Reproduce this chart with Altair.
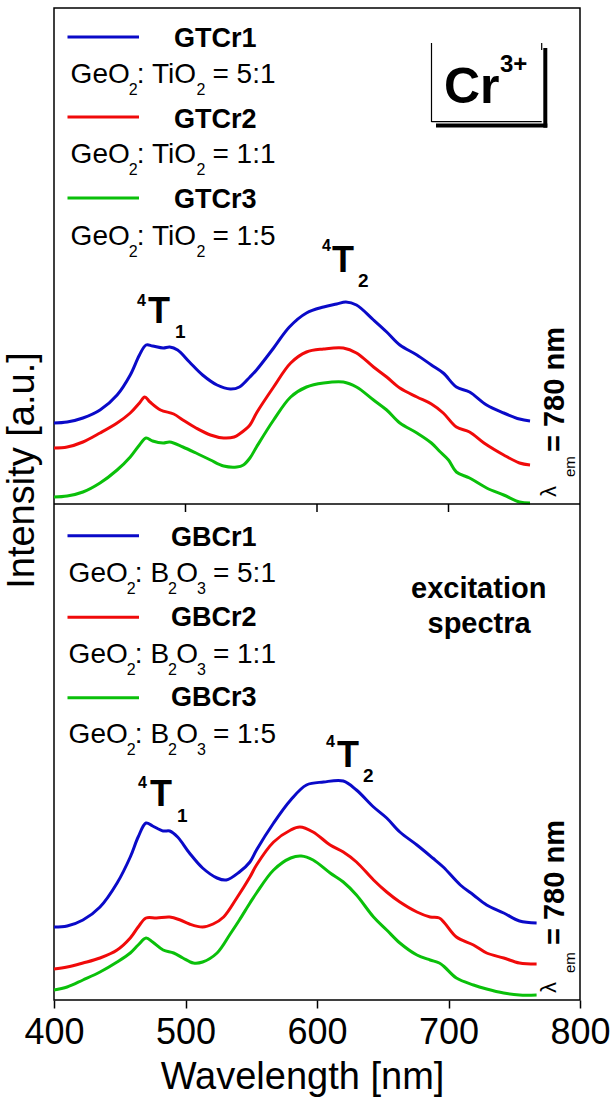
import altair as alt
import pandas as pd

# ---------------- data (intensity in a.u.) ----------------
series_top = ["GTCr1", "GTCr2", "GTCr3"]
series_bottom = ["GBCr1", "GBCr2", "GBCr3"]
ratio_labels = ["5:1", "1:1", "1:5"]
colors = ["#0a0ac8", "#f00a0a", "#0ac00a"]
x_ticks = [400, 500, 600, 700, 800]

gtcr1_wl = [400, 410, 422, 435, 448, 458, 465, 470, 475, 483, 488, 494, 503, 513, 524, 534, 541, 549, 554, 567,
            579, 592, 605, 615, 622, 630, 643, 653, 663, 676, 687, 696, 706, 716, 729, 742, 754, 762]
gtcr1_int = [81, 82, 86, 94, 109, 129, 149, 159, 158, 156, 157, 154, 142, 129, 119, 115, 117, 127, 134, 156,
             177, 191, 197, 200, 202, 199, 184, 172, 159, 149, 139, 131, 117, 112, 99, 91, 85, 83]

gtcr2_wl = [400, 410, 422, 435, 448, 458, 465, 469, 473, 481, 491, 498, 508, 519, 529, 537, 541, 549, 554, 567,
            580, 592, 605, 620, 630, 643, 653, 663, 676, 687, 696, 706, 716, 727, 742, 754, 762]
gtcr2_int = [56, 57, 62, 71, 81, 91, 101, 107, 102, 94, 90, 84, 76, 69, 66, 67, 70, 79, 91, 117,
             141, 152, 155, 156, 151, 137, 127, 116, 107, 100, 91, 77, 72, 61, 49, 41, 39]

gtcr3_wl = [400, 410, 422, 435, 448, 458, 465, 470, 475, 483, 488, 498, 508, 519, 529, 539, 544, 549, 554, 567,
            580, 592, 605, 620, 630, 643, 653, 663, 676, 687, 693, 700, 706, 716, 729, 742, 754, 762]
gtcr3_int = [7, 8, 12, 21, 34, 47, 59, 66, 63, 61, 62, 57, 51, 44, 38, 37, 39, 46, 57, 84,
             107, 117, 121, 122, 117, 104, 94, 81, 71, 61, 53, 44, 32, 26, 16, 9, 2, 1]

gbcr1_wl = [400, 410, 422, 435, 448, 458, 464, 470, 475, 483, 488, 494, 503, 513, 524, 531, 541, 549, 554, 567,
            580, 592, 605, 620, 630, 643, 653, 663, 676, 688, 696, 709, 719, 729, 742, 754, 767]
gbcr1_int = [73, 74, 80, 93, 117, 143, 163, 177, 174, 169, 169, 163, 147, 132, 122, 120, 128, 138, 150, 177,
             200, 215, 218, 219, 210, 193, 182, 168, 155, 142, 133, 115, 105, 95, 87, 79, 77]

gbcr2_wl = [400, 410, 422, 435, 448, 458, 464, 470, 478, 488, 496, 503, 513, 521, 529, 539, 549, 554, 567, 580,
            587, 597, 610, 620, 630, 643, 653, 663, 676, 686, 693, 697, 706, 719, 729, 742, 754, 767]
gbcr2_int = [31, 33, 37, 42, 50, 62, 73, 82, 82, 83, 80, 76, 73, 76, 83, 102, 123, 135, 158, 170,
             173, 168, 155, 148, 138, 120, 108, 98, 88, 83, 82, 77, 63, 55, 47, 42, 37, 36]

gbcr3_wl = [400, 410, 422, 435, 448, 458, 464, 470, 475, 483, 491, 498, 506, 513, 524, 534, 541, 549, 554, 567,
            580, 588, 597, 610, 620, 630, 643, 653, 663, 676, 686, 693, 697, 706, 719, 729, 742, 754, 767]
gbcr3_int = [10, 13, 20, 28, 38, 47, 55, 62, 58, 50, 47, 42, 37, 38, 47, 66, 80, 97, 107, 130,
             142, 144, 140, 127, 118, 105, 83, 70, 57, 45, 40, 37, 33, 22, 15, 11, 7, 5, 5]

# ---------------- layout helpers ----------------
W, H = 526, 992
PAD_L, PAD_T, PAD_R, PAD_B = 54, 8, 35, 97
PX_PER_NM = W / 400.0
PANEL_OFFSET = 496          # the upper panel is stacked above the lower one
FONT = "Liberation Sans, Arial, Helvetica, sans-serif"


def nm(px):
    return 400 + (px - PAD_L) / PX_PER_NM


def yv(py):
    return (PAD_T + H) - py


# spectra table
rows = []
for name, wl, it, off in [
    ("GTCr1", gtcr1_wl, gtcr1_int, PANEL_OFFSET),
    ("GTCr2", gtcr2_wl, gtcr2_int, PANEL_OFFSET),
    ("GTCr3", gtcr3_wl, gtcr3_int, PANEL_OFFSET),
    ("GBCr1", gbcr1_wl, gbcr1_int, 0),
    ("GBCr2", gbcr2_wl, gbcr2_int, 0),
    ("GBCr3", gbcr3_wl, gbcr3_int, 0),
]:
    for a, b in zip(wl, it):
        rows.append({"series": name, "wl": a, "y": b + off})
lines_df = pd.DataFrame(rows)

color_scale = alt.Scale(domain=series_top + series_bottom, range=colors + colors)

# ---------------- annotation text ----------------
ARIAL = {" ": 278, ":": 278, "=": 584, "B": 667, "G": 778, "O": 778, "T": 611, "e": 556, "i": 222}
for d in "0123456789":
    ARIAL[d] = 556


def tw(s, size):
    return sum(ARIAL[c] for c in s) * size / 1000.0


texts = []


def put(t, px, py, size, bold=False, angle=0):
    texts.append({"t": t, "wl": nm(px), "y": yv(py), "s": size, "a": angle, "b": bold})


def formula(second, ratio, px, base):
    if second == "TiO":
        pieces = [("GeO", 0), ("2", 1), (": TiO", 0), ("2", 1), (" = " + ratio, 0)]
    else:
        pieces = [("GeO", 0), ("2", 1), (": B", 0), ("2", 1), ("O", 0), ("3", 1), (" = " + ratio, 0)]
    x = px
    for t, sub in pieces:
        if sub:
            put(t, x - 1, base + 12, 16)
            x += tw(t, 16) * 0.8
        else:
            lead = len(t) - len(t.lstrip(" "))
            put(t.lstrip(" "), x + tw(" " * lead, 28), base, 28)
            x += tw(t, 28)


seg_rows = []
legends = [
    (series_top, "TiO", [37, 117, 198], [47, 128, 208], [83, 163, 245], 174, 70.6),
    (series_bottom, "B", [535.7, 617.3, 697.7], [546, 626, 705.7], [581.7, 662.7, 742.7], 171, 68.6),
]
for names, second, ly, ny, fy, nx, fx in legends:
    for i, name in enumerate(names):
        seg_rows.append({"series": name, "wl": nm(67.5), "wl2": nm(139), "y": yv(ly[i])})
        put(name, nx, ny[i], 27, True)
        formula(second, ratio_labels[i], fx, fy[i])
seg_df = pd.DataFrame(seg_rows)

# term symbols 4T1 / 4T2
put("4", 137, 306, 16, True); put("T", 148, 323, 36, True); put("1", 175, 338, 19, True)
put("4", 322, 251, 16, True); put("T", 332, 272, 36, True); put("2", 358, 287, 19, True)
put("4", 138, 788, 16, True); put("T", 150, 806, 36, True); put("1", 177, 822, 19, True)
put("4", 326, 747, 16, True); put("T", 337, 767, 36, True); put("2", 363, 782, 19, True)

# lambda_em = 780 nm (rotated)
for base in (0, 496):
    put("λ", 556, 497 + base, 22, False, 270)
    put("em", 575, 477 + base, 15, False, 270)
    put("= 780 nm", 564, 452 + base - (base > 0) * 3, 29, True, 270)

# Cr3+ box text
put("Cr", 444, 103, 50, True)
put("3+", 500, 72, 24, True)

# excitation spectra
put("excitation", 411, 598, 29, True)
put("spectra", 427.5, 633, 29, True)

text_df = pd.DataFrame(texts)

# black rules: panel divider, its ticks, Cr3+ box with shadow
blk = []


def rule(px1, py1, px2, py2, sw):
    blk.append({"wl": nm(px1), "y": yv(py1), "wl2": nm(px2), "y2": yv(py2), "sw": sw})


blk.append({"wl": 400, "y": PANEL_OFFSET, "wl2": 800, "y2": PANEL_OFFSET, "sw": 1.5})
for t in x_ticks[1:-1]:
    blk.append({"wl": t, "y": PANEL_OFFSET, "wl2": t, "y2": PANEL_OFFSET - 8, "sw": 1.5})
rule(431.5, 43, 431.5, 122, 1.2)
rule(431.5, 121.7, 541.7, 121.7, 1.2)
rule(541.7, 43, 541.7, 50, 1.2)
rule(545.3, 48, 545.3, 127.7, 4)
rule(436, 125.6, 547.3, 125.6, 4)
blk_df = pd.DataFrame(blk)

# ---------------- chart ----------------
x_enc = alt.X(
    "wl:Q",
    scale=alt.Scale(domain=[400, 800], nice=False, zero=False),
    axis=alt.Axis(
        values=x_ticks, tickSize=8, tickWidth=1.5, tickColor="black", domain=False, grid=False,
        labelFontSize=36, labelColor="black", labelBaseline="alphabetic", labelPadding=35,
        labelFlush=False, labelOverlap=False, labelBound=False,
        title="Wavelength [nm]", titleFontSize=38, titleFontWeight="normal", titleColor="black",
        titleX=248, titleY=88, titleBaseline="alphabetic", titleAlign="center",
    ),
)
y_enc = alt.Y(
    "y:Q",
    scale=alt.Scale(domain=[0, H], nice=False, zero=False),
    axis=alt.Axis(
        labels=False, ticks=False, domain=False, grid=False,
        title="Intensity [a.u.]", titleFontSize=38, titleFontWeight="normal", titleColor="black",
        titleAngle=270, titleX=-21, titleY=462, titleAlign="center", titleBaseline="alphabetic",
    ),
)

lines = alt.Chart(lines_df).mark_line(strokeWidth=3, interpolate="catmull-rom").encode(
    x=x_enc, y=y_enc,
    color=alt.Color("series:N", scale=color_scale, legend=None),
)

segs = alt.Chart(seg_df).mark_rule(strokeWidth=3).encode(
    x="wl:Q", x2="wl2:Q", y="y:Q",
    color=alt.Color("series:N", scale=color_scale, legend=None),
)

black_rules = alt.Chart(blk_df).mark_rule(color="black").encode(
    x="wl:Q", x2="wl2:Q", y="y:Q", y2="y2:Q",
    strokeWidth=alt.StrokeWidth("sw:Q", scale=None),
)


def text_layer(bold):
    df = text_df[text_df["b"] == bold]
    return alt.Chart(df).mark_text(
        align="left", baseline="alphabetic", font=FONT, color="black",
        fontWeight="bold" if bold else "normal",
    ).encode(
        x="wl:Q", y="y:Q", text="t:N",
        size=alt.Size("s:Q", scale=None),
        angle=alt.Angle("a:Q", scale=None),
    )


chart = alt.layer(lines, segs, black_rules, text_layer(False), text_layer(True)).properties(
    width=W, height=H,
    padding={"left": PAD_L, "top": PAD_T, "right": PAD_R, "bottom": PAD_B},
    autosize=alt.AutoSizeParams(type="none"),
    background="white",
).configure(font=FONT).configure_view(stroke="black", strokeWidth=1.5)

chart.save("out.html", embed_options={"renderer": "svg", "actions": False})
